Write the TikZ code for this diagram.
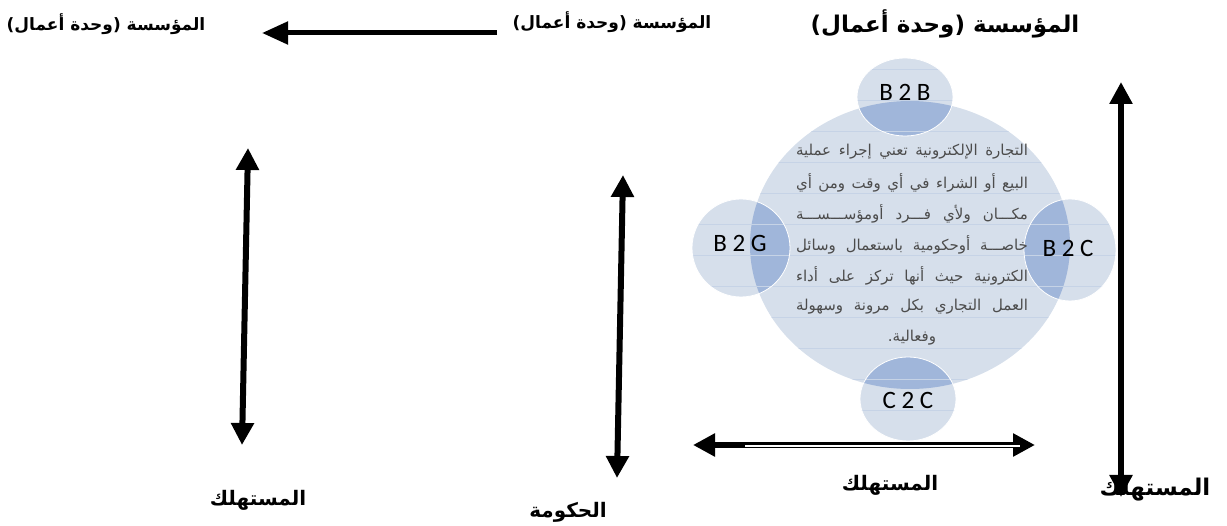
\documentclass[tikz,border=0pt]{standalone}
\usepackage{fontspec}
\setmainfont{DejaVu Sans}
\newfontfamily\arabicfont[Script=Arabic]{DejaVu Sans}
\newfontfamily\latinfont{Carlito}
\TeXXeTstate=1
\usetikzlibrary{arrows.meta}
\definecolor{discfill}{RGB}{214,223,235}
\definecolor{overlap}{RGB}{160,182,218}
\definecolor{texture}{RGB}{198,211,230}
\tikzset{l/.style={font=\arabicfont\bfseries\fontsize{17}{17}\selectfont}}
\tikzset{m/.style={font=\arabicfont\bfseries\fontsize{20}{20}\selectfont}}
\tikzset{big/.style={font=\arabicfont\bfseries\fontsize{23}{23}\selectfont}}
\tikzset{t/.style={font=\arabicfont\fontsize{15}{15}\selectfont, text=black!70, inner sep=0pt}}
\tikzset{bb/.style={font=\latinfont\fontsize{25}{25}\selectfont, inner sep=0pt}}
\tikzset{fat/.style={line width=6pt, {Triangle[length=22pt,width=22pt]}-{Triangle[length=22pt,width=22pt]}}}

\begin{document}
\begin{tikzpicture}[x=1pt,y=-1pt]
  \useasboundingbox (0,0) rectangle (1227,526);
  % the disc and its four small circles
  \fill[discfill] (910,245) ellipse [x radius=160, y radius=144];
  \fill[discfill] (905,97) ellipse [x radius=48, y radius=39];
  \fill[discfill] (741,248) ellipse [x radius=49, y radius=49];
  \fill[discfill] (1070,250) ellipse [x radius=46, y radius=51];
  \fill[discfill] (908,399) ellipse [x radius=48, y radius=42];
  \begin{scope}
    \clip (910,245) ellipse [x radius=160, y radius=144];
    \fill[overlap] (905,97) ellipse [x radius=48, y radius=39];
    \fill[overlap] (741,248) ellipse [x radius=49, y radius=49];
    \fill[overlap] (1070,250) ellipse [x radius=46, y radius=51];
    \fill[overlap] (908,399) ellipse [x radius=48, y radius=42];
  \end{scope}
  \begin{scope}
    \clip (910,245) ellipse [x radius=160, y radius=144]
      (905,97) ellipse [x radius=48, y radius=39]
      (741,248) ellipse [x radius=49, y radius=49]
      (1070,250) ellipse [x radius=46, y radius=51]
      (908,399) ellipse [x radius=48, y radius=42];
    \foreach \y in {0,...,12}
      \draw[texture, line width=0.6pt] (680,69+31*\y) -- (1120,69+31*\y);
  \end{scope}
  \draw[white, line width=0.8pt] (905,97) ellipse [x radius=48, y radius=39];
  \draw[white, line width=0.8pt] (741,248) ellipse [x radius=49, y radius=49];
  \draw[white, line width=0.8pt] (1070,250) ellipse [x radius=46, y radius=51];
  \draw[white, line width=0.8pt] (908,399) ellipse [x radius=48, y radius=42];

  \node[bb] (b2b) at (905,92) {B 2 B};
  \node[bb] (b2g) at (740,243) {B 2 G};
  \node[bb] (b2c) at (1068,248) {B 2 C};
  \node[bb] (c2c) at (908,400) {C 2 C};

  \node[t] (l1) at (912,152) {\makebox[232pt][s]{\beginR التجارة الإلكترونية تعني إجراء عملية\endR}};
  \node[t] (l2) at (912,183) {\makebox[232pt][s]{\beginR البيع أو الشراء في أي وقت ومن أي\endR}};
  \node[t] (l3) at (912,214) {\makebox[232pt][s]{\beginR مكـــان ولأي فـــرد أومؤســـســـة\endR}};
  \node[t] (l4) at (912,245) {\makebox[232pt][s]{\beginR خاصـــة أوحكومية باستعمال وسائل\endR}};
  \node[t] (l5) at (912,276) {\makebox[232pt][s]{\beginR الكترونية حيث أنها تركز على أداء\endR}};
  \node[t] (l6) at (912,307) {\makebox[232pt][s]{\beginR العمل التجاري بكل مرونة وسهولة\endR}};
  \node[t] (l7) at (912,338) {\beginR وفعالية.\endR};

  % labels
  \node[l] (org1) at (106,24) {\beginR المؤسسة (وحدة أعمال)\endR};
  \node[l] (org2) at (612,22) {\beginR المؤسسة (وحدة أعمال)\endR};
  \node[big] (org3) at (945,24) {\beginR المؤسسة (وحدة أعمال)\endR};
  \node[m] (con1) at (258,500) {\beginR المستهلك\endR};
  \node[m] (gov) at (568,512) {\beginR الحكومة\endR};
  \node[m] (con2) at (890,485) {\beginR المستهلك\endR};
  \node[big] (con3) at (1155,490) {\beginR المستهلك\endR};

  % arrows
  \coordinate (ta) at (497,33);
  \coordinate (tb) at (262,33);
  \draw[line width=5pt, -{Triangle[length=26pt,width=22pt]}] (ta) -- (tb);
  \coordinate (la) at (248,148);
  \coordinate (lb) at (242,445);
  \draw[fat] (la) -- (lb);
  \coordinate (ma) at (623,175);
  \coordinate (mb) at (617,478);
  \draw[fat] (ma) -- (mb);
  \coordinate (ra) at (1121,82);
  \coordinate (rb) at (1121,497);
  \draw[fat] (ra) -- (rb);
  \coordinate (ba) at (693,445);
  \coordinate (bc) at (1035,445);
  \draw[fat] (ba) -- (bc);
  \draw[white, line width=1.5pt] (745,446) -- (1020,446);
\end{tikzpicture}
\end{document}
